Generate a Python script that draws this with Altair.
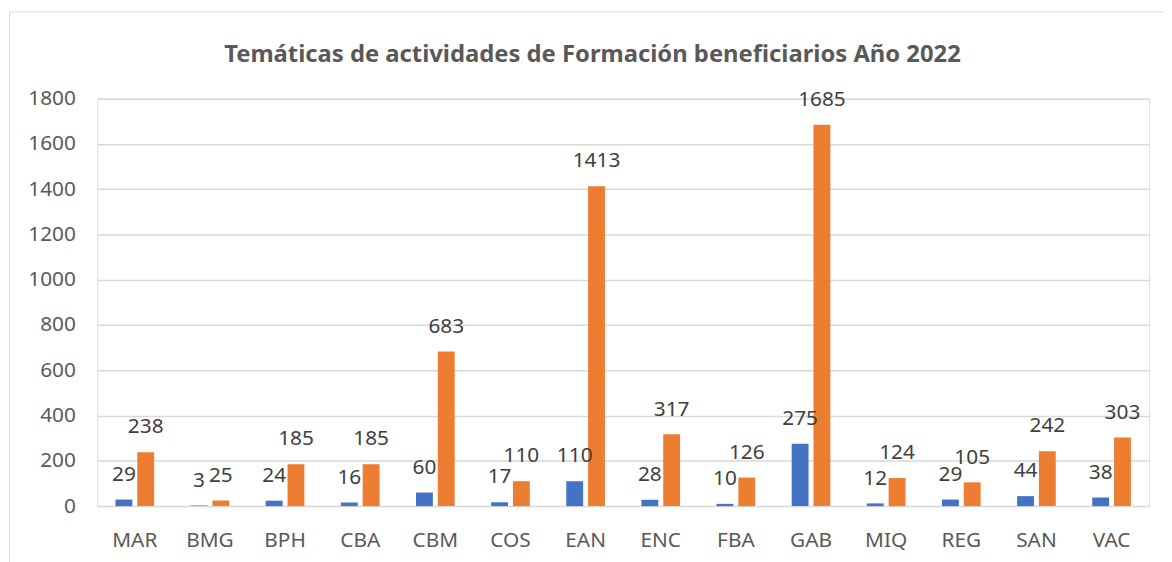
import altair as alt
import pandas as pd

categories = ["MAR", "BMG", "BPH", "CBA", "CBM", "COS", "EAN", "ENC", "FBA", "GAB", "MIQ", "REG", "SAN", "VAC"]
serie_a = [29, 3, 24, 16, 60, 17, 110, 28, 10, 275, 12, 29, 44, 38]
serie_b = [238, 25, 185, 185, 683, 110, 1413, 317, 126, 1685, 124, 105, 242, 303]
series_names = ["Actividades", "Beneficiarios"]
colors = ["#4472C4", "#ED7D31"]
y_ticks = [0, 200, 400, 600, 800, 1000, 1200, 1400, 1600, 1800]
title_text = "Temáticas de actividades de Formación beneficiarios Año 2022"

rows = []
for c, a, b in zip(categories, serie_a, serie_b):
    rows.append({"cat": c, "serie": series_names[0], "val": a})
    rows.append({"cat": c, "serie": series_names[1], "val": b})
df = pd.DataFrame(rows)

W, H = 1061, 411
FONT = "Noto Sans"

x_enc = alt.X("cat:N", sort=categories, title=None,
              scale=alt.Scale(paddingInner=0, paddingOuter=0),
              axis=alt.Axis(labelAngle=0, labelFontSize=21, labelColor="#595959", labelFont=FONT,
                            labelPadding=24, ticks=False, domain=False, grid=False))
xoff = alt.XOffset("serie:N", sort=series_names,
                   scale=alt.Scale(paddingInner=0.2273, paddingOuter=0.836))
y_enc = alt.Y("val:Q", title=None,
              scale=alt.Scale(domain=[0, 1800], nice=False, zero=True),
              axis=alt.Axis(values=y_ticks, format="d", labelFontSize=21, labelColor="#595959",
                            labelFont=FONT, labelPadding=22, ticks=False, domain=False, grid=True,
                            gridColor="#D9D9D9", gridWidth=1.5))
color_enc = alt.Color("serie:N", sort=series_names,
                      scale=alt.Scale(domain=series_names, range=colors), legend=None)

bars = alt.Chart(df).mark_bar().encode(x=x_enc, xOffset=xoff, y=y_enc, color=color_enc)

labels = alt.Chart(df).mark_text(fontSize=21, font=FONT, color="#404040", dy=-25,
                                 baseline="middle", align="center").encode(
    x=alt.X("cat:N", sort=categories), xOffset=alt.XOffset("serie:N", sort=series_names),
    y=alt.Y("val:Q"), text=alt.Text("val:Q"))

border = alt.Chart(pd.DataFrame({"k": [0]})).mark_rect(
    fill=None, fillOpacity=0, stroke="#D9D9D9", strokeWidth=1).encode(
    x=alt.value(-88.5), x2=alt.value(W + 40), y=alt.value(-87.5), y2=alt.value(H + 80))

title = alt.Chart(pd.DataFrame({"t": [title_text]})).mark_text(
    fontSize=24, font=FONT, fontWeight="bold", color="#595959", align="center",
    baseline="alphabetic").encode(
    x=alt.value(499.5), y=alt.value(-37), text="t:N")

chart = alt.layer(border, bars, labels, title).properties(
    width=W, height=H,
    autosize=alt.AutoSizeParams(type="none"),
    padding={"left": 90, "top": 89, "right": 15, "bottom": 60},
).configure_view(stroke=None).configure(background="white")

chart.save("out.html", embed_options={"renderer": "svg", "actions": False})
